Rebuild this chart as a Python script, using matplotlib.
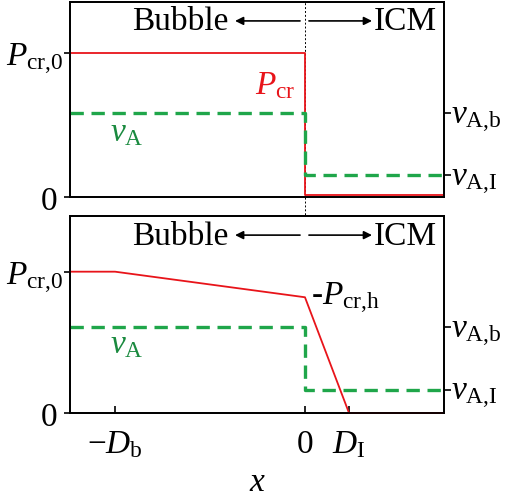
import numpy as np
import matplotlib
matplotlib.use("Agg")
import matplotlib.pyplot as plt
import matplotlib.transforms as mtransforms

plt.rcParams["font.family"] = ["Liberation Serif", "DejaVu Serif"]
plt.rcParams["mathtext.fontset"] = "custom"
plt.rcParams["mathtext.rm"] = "Liberation Serif"
plt.rcParams["mathtext.it"] = "Liberation Serif:italic"
plt.rcParams["font.size"] = 24

RED = "#e8141a"
GREEN = "#1fa64a"
GREEN_TXT = "#1a8a3f"

# x positions (units of D_b)
x_lo, x_hi = -1.237, 0.732
D_b = 1.0
D_I = 0.232

# top panel: step profiles
top_x = [x_lo, 0.0, 0.0, x_hi]
top_pcr = [1.0, 1.0, 0.012, 0.012]
top_vA = [0.583, 0.583, 0.153, 0.153]
top_ylim = 1.354

# bottom panel: tapered profile
bot_x_pcr = [x_lo, -D_b, 0.0, D_I, x_hi]
bot_pcr = [1.0, 1.0, 0.819, 0.0, 0.0]
bot_x_vA = [x_lo, 0.0, 0.0, x_hi]
bot_vA = [0.607, 0.607, 0.165, 0.165]
bot_ylim = 1.394

fig = plt.figure(figsize=(5.2, 5.02), dpi=100)
ax1 = fig.add_axes([70 / 520, (502 - 198) / 502, 374 / 520, 195 / 502])
ax2 = fig.add_axes([70 / 520, (502 - 414) / 502, 374 / 520, 197 / 502])


def style_panel(ax, ylim, vA_vals, pcr0):
    ax.set_xlim(x_lo, x_hi)
    ax.set_ylim(0, ylim)
    for s in ax.spines.values():
        s.set_linewidth(1.3)
    ax.set_yticks([0, pcr0])
    ax.set_yticklabels(["0", r"$P_{\rm cr{,}0}$"])
    ax.tick_params(axis="y", direction="out", length=4, width=1.2, pad=0.5)
    t0 = ax.yaxis.get_major_ticks()[0]
    t0.tick1line.set_visible(False)
    t0.set_pad(5)
    axr = ax.twinx()
    axr.set_ylim(0, ylim)
    axr.set_yticks(vA_vals)
    axr.set_yticklabels([r"$v_{\rm A{,}I}$", r"$v_{\rm A{,}b}$"])
    axr.tick_params(axis="y", direction="out", length=5, width=1.2, pad=0)
    for s in axr.spines.values():
        s.set_linewidth(1.3)
    # Bubble / ICM arrows
    trans = mtransforms.blended_transform_factory(ax.transData, ax.transAxes)
    ax.text(-0.405, 0.86, "Bubble", transform=trans, ha="right", va="baseline")
    ax.text(0.363, 0.86, "ICM", transform=trans, ha="left", va="baseline")
    arrow = dict(arrowstyle="-|>", color="black", lw=1.2, mutation_scale=12,
                 shrinkA=0, shrinkB=0)
    ax.annotate("", xy=(-0.368, 0.903), xytext=(-0.026, 0.903),
                xycoords=trans, textcoords=trans, arrowprops=arrow)
    ax.annotate("", xy=(0.353, 0.903), xytext=(0.021, 0.903),
                xycoords=trans, textcoords=trans, arrowprops=arrow)
    return axr


style_panel(ax1, top_ylim, [top_vA[-1], top_vA[0]], top_pcr[0])
style_panel(ax2, bot_ylim, [bot_vA[-1], bot_vA[0]], bot_pcr[0])

# top panel
ax1.plot(top_x, top_pcr, color=RED, lw=1.3, zorder=3, clip_on=False)
ax1.plot(top_x, top_vA, color=GREEN, lw=2.4, ls=(0, (4.0, 2.3)), zorder=4)
ax1.set_xticks([])
ax1.text(-0.05, 0.78, r"$P_{\rm cr}$", color=RED, ha="right", va="center")
ax1.text(-0.937, 0.455, r"$v_{\rm A}$", color=GREEN_TXT, ha="center", va="center")

# bottom panel
ax2.plot(bot_x_pcr, bot_pcr, color=RED, lw=1.3, zorder=3, clip_on=False)
ax2.plot(bot_x_vA, bot_vA, color=GREEN, lw=2.4, ls=(0, (4.0, 2.3)), zorder=4)
ax2.annotate(r"-$P_{\rm cr{,}h}$", xy=(0, bot_pcr[2]), xytext=(4, 0),
             textcoords="offset points", ha="left", va="center")
ax2.text(-0.937, 0.488, r"$v_{\rm A}$", color=GREEN_TXT, ha="center", va="center")
ax2.set_xticks([-D_b, 0, D_I])
ax2.set_xticklabels([r"$-D_{\rm b}$", "0", r"$D_{\rm I}$"])
ax2.tick_params(axis="x", direction="in", length=5, width=1.2, pad=11)
ax2.set_xlabel(r"$x$", labelpad=5)

# interface line through both panels
gap = (414 - 198 - 197) / 195 + 197 / 195
ax1.axvline(0, ymin=-gap, ymax=1, color="black", lw=0.7, ls=(0, (2, 2)),
            clip_on=False, zorder=2)

fig.savefig("out.png", dpi=100)
